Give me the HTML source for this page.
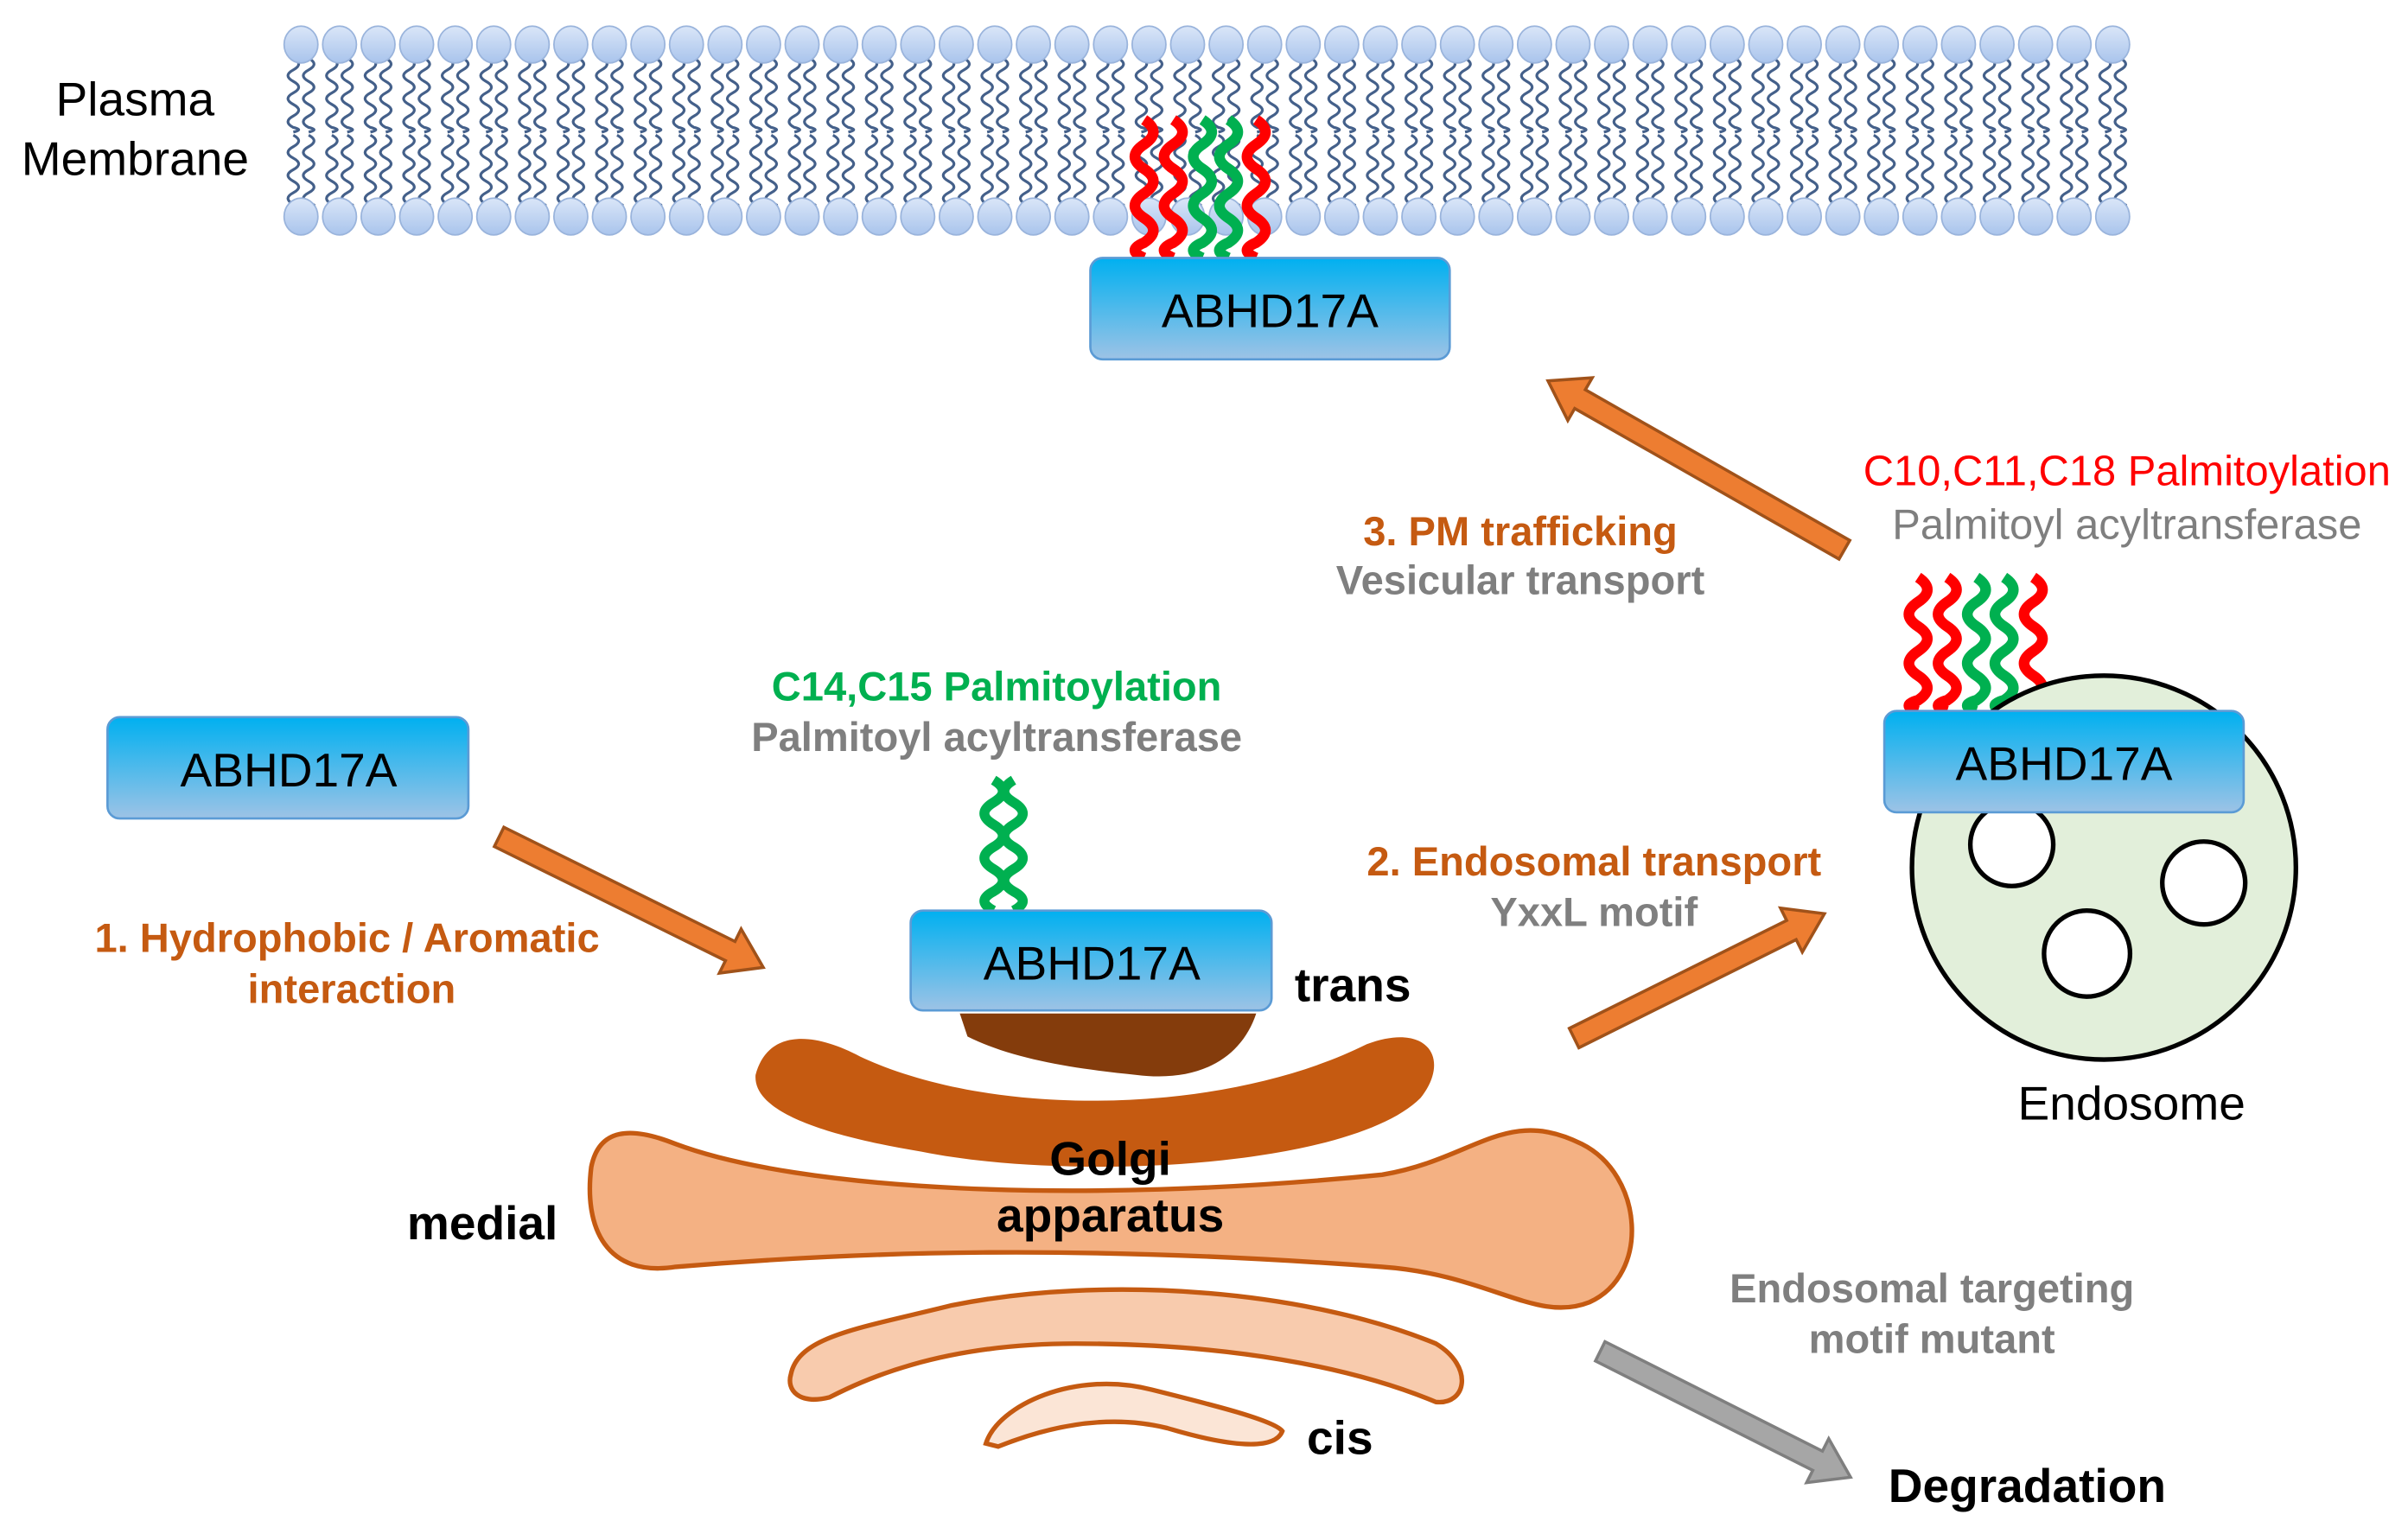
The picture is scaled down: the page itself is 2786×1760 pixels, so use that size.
<!DOCTYPE html>
<html><head><meta charset="utf-8"><style>
html,body{margin:0;padding:0;background:#fff;width:2786px;height:1760px;overflow:hidden}
svg{display:block}
text{font-family:"Liberation Sans",Arial,sans-serif}
.b{font-weight:bold}
</style></head><body>
<svg id="s" width="2786" height="1760" viewBox="0 0 1568 990.5" preserveAspectRatio="none" xmlns="http://www.w3.org/2000/svg">
<defs>
<linearGradient id="bx" x1="0" y1="0" x2="0" y2="1"><stop offset="0" stop-color="#00b0f0"/><stop offset="1" stop-color="#9dc3e6"/></linearGradient>
<linearGradient id="hd" x1="0" y1="0" x2="0" y2="1"><stop offset="0" stop-color="#dae6f8"/><stop offset="1" stop-color="#a9c4ec"/></linearGradient>
</defs>
<g id="mem"></g>
<g id="chains"></g>

<text x="88" y="75" font-size="31" text-anchor="middle">Plasma</text>
<text x="88" y="114" font-size="31" text-anchor="middle">Membrane</text>

<!-- Golgi -->
<path d="M492,700 C500,670 530,672 560,688 C650,730 800,725 890,680 C930,665 945,690 925,715 C880,760 700,770 600,750 C540,740 490,725 492,700 Z" fill="#c55a11"/>
<path d="M625,660 L818,660 C808,690 780,705 740,700 C700,696 660,690 630,675 Z" fill="#843c0c"/>
<path d="M385,760 C390,735 410,733 440,745 C520,775 700,785 900,765 C960,755 980,720 1030,745 C1070,765 1075,830 1035,848 C1000,862 970,830 900,825 C700,810 560,815 440,825 C395,832 380,800 385,760 Z" fill="#f4b183" stroke="#c55a11" stroke-width="3"/>
<path d="M515,895 C520,870 560,865 620,850 C720,830 850,840 935,875 C960,890 955,915 935,913 C880,890 800,875 700,875 C610,875 560,900 540,910 C520,915 512,905 515,895 Z" fill="#f8cbad" stroke="#c55a11" stroke-width="3"/>
<path d="M642,940 C650,915 700,892 750,905 C790,915 830,925 835,932 C830,945 800,942 760,930 C720,920 680,930 650,942 Z" fill="#fbe5d6" stroke="#c55a11" stroke-width="3"/>
<text x="843" y="652" font-size="31" class="b">trans</text>
<text x="265" y="807" font-size="31" class="b">medial</text>
<text x="723" y="765" font-size="31" class="b" text-anchor="middle">Golgi</text>
<text x="723" y="802" font-size="31" class="b" text-anchor="middle">apparatus</text>
<text x="851" y="947" font-size="31" class="b">cis</text>

<!-- Endosome -->
<circle cx="1370" cy="565" r="125" fill="#e2efda" stroke="#000" stroke-width="3"/>
<circle cx="1310" cy="550" r="27" fill="#fff" stroke="#000" stroke-width="3"/>
<circle cx="1435" cy="575" r="27" fill="#fff" stroke="#000" stroke-width="3"/>
<circle cx="1359" cy="621" r="28" fill="#fff" stroke="#000" stroke-width="3"/>
<text x="1388" y="729" font-size="31" text-anchor="middle">Endosome</text>

<!-- boxes -->
<g font-size="31" text-anchor="middle">
<rect x="710" y="168" width="234" height="66" rx="8" fill="url(#bx)" stroke="#5b9bd5" stroke-width="1.5"/><text x="827" y="213">ABHD17A</text>
<rect x="70" y="467" width="235" height="66" rx="8" fill="url(#bx)" stroke="#5b9bd5" stroke-width="1.5"/><text x="188" y="512">ABHD17A</text>
<rect x="593" y="593" width="235" height="65" rx="8" fill="url(#bx)" stroke="#5b9bd5" stroke-width="1.5"/><text x="711" y="638">ABHD17A</text>
<rect x="1227" y="463" width="234" height="66" rx="8" fill="url(#bx)" stroke="#5b9bd5" stroke-width="1.5"/><text x="1344" y="508">ABHD17A</text>
</g>

<g id="arrows"></g>

<text x="1385" y="316" font-size="27.5" fill="#ff0000" text-anchor="middle">C10,C11,C18 Palmitoylation</text>
<text x="1385" y="351" font-size="27.5" fill="#7f7f7f" text-anchor="middle">Palmitoyl acyltransferase</text>
<text x="990" y="355" font-size="26.5" class="b" fill="#c55a11" text-anchor="middle">3. PM trafficking</text>
<text x="990" y="387" font-size="26.5" class="b" fill="#7f7f7f" text-anchor="middle">Vesicular transport</text>
<text x="649" y="456" font-size="26.5" class="b" fill="#00b050" text-anchor="middle">C14,C15 Palmitoylation</text>
<text x="649" y="489" font-size="26.5" class="b" fill="#7f7f7f" text-anchor="middle">Palmitoyl acyltransferase</text>
<text x="226" y="620" font-size="26.5" class="b" fill="#c55a11" text-anchor="middle">1. Hydrophobic / Aromatic</text>
<text x="229" y="653" font-size="26.5" class="b" fill="#c55a11" text-anchor="middle">interaction</text>
<text x="1038" y="570" font-size="26.5" class="b" fill="#c55a11" text-anchor="middle">2. Endosomal transport</text>
<text x="1038" y="603" font-size="26.5" class="b" fill="#7f7f7f" text-anchor="middle">YxxL motif</text>
<text x="1258" y="848" font-size="26.5" class="b" fill="#7f7f7f" text-anchor="middle">Endosomal targeting</text>
<text x="1258" y="881" font-size="26.5" class="b" fill="#7f7f7f" text-anchor="middle">motif mutant</text>
<text x="1320" y="978" font-size="31" class="b" text-anchor="middle">Degradation</text>
</svg>
<script>
var NS="http://www.w3.org/2000/svg";
function el(p,t,a){var e=document.createElementNS(NS,t);for(var k in a)e.setAttribute(k,a[k]);p.appendChild(e);return e;}
function wave(x,y0,y1,amp,per){var d="M"+x+","+y0,y=y0,s=1;while(y<y1-0.01){var ny=Math.min(y+per/2,y1);d+=" Q"+(x+s*amp)+","+((y+ny)/2)+" "+x+","+ny;y=ny;s=-s;}return d;}
var mem=document.getElementById("mem");
var n=48,x0=196,dx=25.1;
for(var i=0;i<n;i++){var x=x0+i*dx;
 [-5,5].forEach(function(o){
 el(mem,"path",{d:wave(x+o,38,86,7,15),fill:"none",stroke:"#44608a","stroke-width":1.8});
 el(mem,"path",{d:wave(x+o,88,134,7,15),fill:"none",stroke:"#44608a","stroke-width":1.8});
 });
}
for(var i=0;i<n;i++){var x=x0+i*dx;
 el(mem,"ellipse",{cx:x,cy:29,rx:11,ry:12,fill:"url(#hd)",stroke:"#9ab4dc","stroke-width":1});
 el(mem,"ellipse",{cx:x,cy:141,rx:11,ry:12,fill:"url(#hd)",stroke:"#9ab4dc","stroke-width":1});
}
var ch=document.getElementById("chains");
function chainset(xs,cols,y0,y1,amp,per,w){for(var i=0;i<xs.length;i++)el(ch,"path",{d:wave(xs[i],y0,y1,amp,per),fill:"none",stroke:cols[i],"stroke-width":w});}
chainset([745,764,783,800,818],["#ff0000","#ff0000","#00b050","#00b050","#ff0000"],78,168,12,32,7);
chainset([1249,1268,1287,1305,1324],["#ff0000","#ff0000","#00b050","#00b050","#ff0000"],376,463,12,32,7);
el(ch,"path",{d:wave(647,508,593,12,29),fill:"none",stroke:"#00b050","stroke-width":6.5});
el(ch,"path",{d:wave(660,508,593,-12,29),fill:"none",stroke:"#00b050","stroke-width":6.5});
var ar=document.getElementById("arrows");
function arrow(x1,y1,x2,y2,fill,stroke){var dx=x2-x1,dy=y2-y1,L=Math.hypot(dx,dy),ux=dx/L,uy=dy/L,px=-uy,py=ux;
 var sw=7,hw=16,hl=24,bx=x2-ux*hl,by=y2-uy*hl;
 var pts=[[x1+px*sw,y1+py*sw],[bx+px*sw,by+py*sw],[bx+px*hw,by+py*hw],[x2,y2],[bx-px*hw,by-py*hw],[bx-px*sw,by-py*sw],[x1-px*sw,y1-py*sw]];
 el(ar,"polygon",{points:pts.map(function(p){return p[0].toFixed(1)+","+p[1].toFixed(1)}).join(" "),fill:fill,stroke:stroke,"stroke-width":2});}
arrow(325,545,497,630,"#ed7d31","#a0521a");
arrow(1025,676,1188,595,"#ed7d31","#a0521a");
arrow(1201,358,1008,248,"#ed7d31","#a0521a");
arrow(1042,880,1205,962,"#a6a6a6","#7f7f7f");
</script>
</body></html>
